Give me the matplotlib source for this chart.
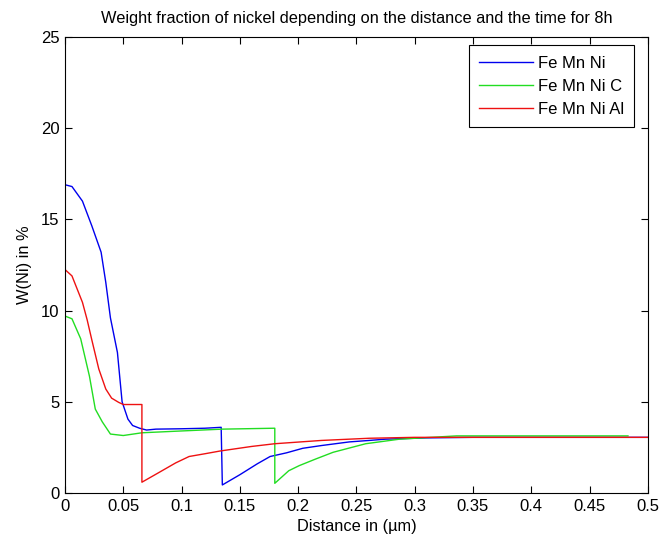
import matplotlib
matplotlib.use("Agg")
import matplotlib.pyplot as plt

plt.rcParams['font.family'] = ['Liberation Sans', 'DejaVu Sans']

# values
xFeMnNi = [0, 0.006, 0.015, 0.023, 0.031, 0.035, 0.039, 0.045, 0.049, 0.054, 0.058, 0.064, 0.07, 0.078,
           0.1, 0.12, 0.134, 0.135, 0.15, 0.165, 0.176, 0.19, 0.204, 0.22, 0.244, 0.261, 0.275, 0.31,
           0.35, 0.4, 0.45, 0.5]
yFeMnNi = [16.9, 16.8, 16.0, 14.65, 13.2, 11.55, 9.6, 7.7, 5.0, 4.05, 3.7, 3.55, 3.45, 3.5,
           3.52, 3.55, 3.6, 0.44, 1.0, 1.6, 2.0, 2.2, 2.45, 2.6, 2.8, 2.88, 2.95, 3.02,
           3.05, 3.05, 3.05, 3.05]

xFeMnNiC = [0, 0.006, 0.0135, 0.021, 0.026, 0.032, 0.039, 0.05, 0.066, 0.1, 0.135, 0.18, 0.18,
            0.192, 0.201, 0.215, 0.23, 0.258, 0.287, 0.336, 0.4, 0.483]
yFeMnNiC = [9.7, 9.55, 8.45, 6.4, 4.6, 3.9, 3.23, 3.15, 3.3, 3.4, 3.5, 3.55, 0.53,
            1.22, 1.5, 1.86, 2.23, 2.7, 2.95, 3.13, 3.13, 3.13]

xFeMnNiAl = [0, 0.006, 0.015, 0.019, 0.023, 0.029, 0.035, 0.04, 0.046, 0.05, 0.066, 0.066, 0.08,
             0.095, 0.1065, 0.12, 0.133, 0.16, 0.18, 0.22, 0.261, 0.3, 0.35, 0.5]
yFeMnNiAl = [12.25, 11.9, 10.45, 9.5, 8.4, 6.8, 5.7, 5.2, 4.97, 4.85, 4.85, 0.59, 1.1,
             1.65, 2.0, 2.15, 2.3, 2.55, 2.7, 2.88, 3.0, 3.05, 3.05, 3.05]

labels = ['Fe Mn Ni', 'Fe Mn Ni C', 'Fe Mn Ni Al']
xTicks = [0, 0.05, 0.1, 0.15, 0.2, 0.25, 0.3, 0.35, 0.4, 0.45, 0.5]
xTickLabels = ['0', '0.05', '0.1', '0.15', '0.2', '0.25', '0.3', '0.35', '0.4', '0.45', '0.5']
yTicks = [0, 5, 10, 15, 20, 25]

fig = plt.figure(figsize=(6.59, 5.44), dpi=100)
ax = fig.add_axes([0.0986, 0.0938, 0.8844, 0.8382])

ax.plot(xFeMnNi, yFeMnNi, color='#0000ee', lw=1.0, label=labels[0])
ax.plot(xFeMnNiC, yFeMnNiC, color='#22dd22', lw=1.0, label=labels[1])
ax.plot(xFeMnNiAl, yFeMnNiAl, color='#ee1111', lw=1.0, label=labels[2])

ax.set_xlim(0, 0.5)
ax.set_ylim(0, 25)
ax.set_xticks(xTicks)
ax.set_xticklabels(xTickLabels)
ax.set_yticks(yTicks)
ax.tick_params(direction='in', top=True, right=True, labelsize=12, length=5, pad=4)
for s in ax.spines.values():
    s.set_linewidth(0.8)

ax.set_title('Weight fraction of nickel depending on the distance and the time for 8h', fontsize=11.8, pad=10)
ax.set_xlabel('Distance in (µm)', fontsize=11.8, labelpad=4)
ax.set_ylabel('W(Ni) in %', fontsize=11.8, labelpad=6)

leg = ax.legend(loc='upper left', bbox_to_anchor=(0.693, 0.982), borderaxespad=0,
                fontsize=12, fancybox=False, framealpha=1, edgecolor='black',
                handlelength=3.2, handletextpad=0.3, borderpad=0.62, labelspacing=0.48)
leg.get_frame().set_linewidth(0.8)

fig.savefig('out.png', dpi=100)
